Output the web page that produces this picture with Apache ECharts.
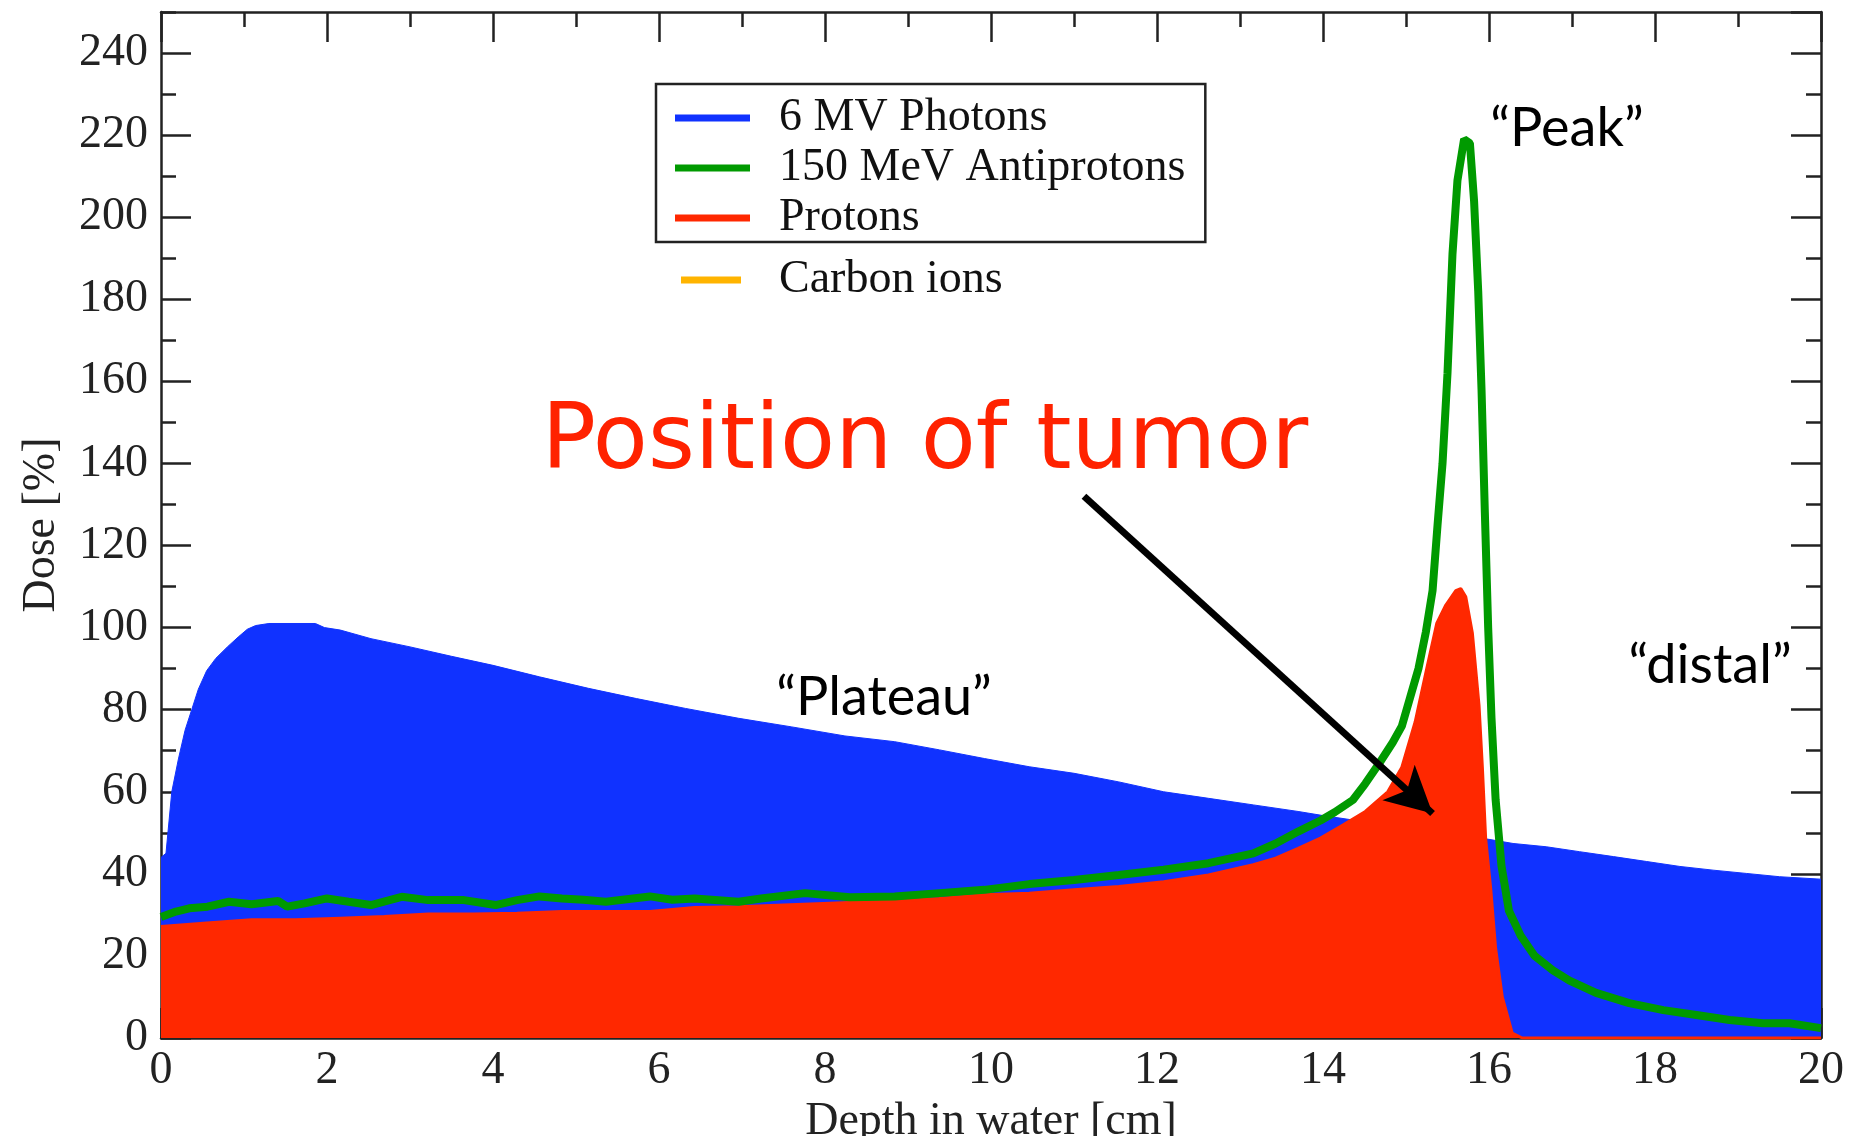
<!DOCTYPE html>
<html>
<head>
<meta charset="utf-8">
<title>Depth dose curves</title>
<script src="https://cdn.jsdelivr.net/npm/echarts@6/dist/echarts.min.js"></script>
<style>
  html, body { margin: 0; padding: 0; background: #fff; }
  #main { width: 1851px; height: 1136px; }
</style>
</head>
<body>
<div id="main"></div>
<script>
'use strict';

// depth [cm], dose [%]
var photons = [
  [0, 44], [0.06, 45], [0.13, 60], [0.21, 68], [0.29, 75], [0.37, 80], [0.45, 85], [0.55, 89.5],
  [0.66, 92.5], [0.8, 95.3], [0.93, 97.7], [1.04, 99.6], [1.14, 100.5], [1.3, 101], [1.86, 101],
  [1.97, 100], [2.16, 99.4], [2.53, 97.3], [3.0, 95.3], [3.5, 93], [4.0, 90.8], [4.56, 88],
  [5.15, 85.2], [5.73, 82.7], [6.32, 80.3], [6.96, 77.9], [7.6, 75.8], [8.24, 73.6], [8.84, 72.2],
  [9.38, 70.2], [9.92, 68.1], [10.46, 66.1], [11.0, 64.5], [11.54, 62.4], [12.08, 60], [12.62, 58.4],
  [13.16, 56.8], [13.7, 55.2], [14.0, 54.2], [14.5, 52.7], [15.0, 51.3], [15.5, 49.9], [16.0, 48.4],
  [16.29, 47.4], [16.69, 46.6], [17.09, 45.4], [17.5, 44.2], [17.9, 43], [18.3, 41.8], [18.7, 40.9],
  [19.1, 40.1], [19.5, 39.3], [20, 38.7]
];

var antiprotons = [
  [0, 29.5], [0.18, 30.8], [0.34, 31.6], [0.56, 32], [0.82, 33.2], [1.09, 32.6], [1.41, 33.4],
  [1.52, 32], [1.73, 32.8], [2.0, 34], [2.26, 33.2], [2.53, 32.4], [2.9, 34.4], [3.22, 33.6],
  [3.65, 33.6], [4.03, 32.4], [4.29, 33.6], [4.56, 34.5], [4.83, 34], [5.09, 33.7], [5.36, 33.2],
  [5.89, 34.5], [6.16, 33.7], [6.43, 34], [6.96, 33.2], [7.23, 34], [7.76, 35.3], [8.3, 34.3],
  [8.84, 34.5], [9.38, 35.3], [9.92, 36.1], [10.46, 37.5], [11.0, 38.5], [11.54, 39.7], [12.08, 41],
  [12.62, 42.6], [13.16, 45], [13.43, 47.4], [13.7, 50.3], [13.97, 53], [14.14, 55], [14.36, 58],
  [14.51, 62], [14.68, 67], [14.84, 72], [14.95, 76], [15.05, 83], [15.15, 90], [15.24, 99],
  [15.32, 109], [15.38, 125], [15.44, 140], [15.5, 162], [15.56, 191], [15.62, 209], [15.7, 219],
  [15.77, 218], [15.82, 204], [15.87, 182], [15.91, 158], [15.95, 128], [15.99, 100], [16.03, 78],
  [16.08, 58], [16.15, 42], [16.24, 31], [16.38, 25], [16.55, 20], [16.77, 16.5], [16.97, 14],
  [17.29, 11], [17.69, 8.5], [18.1, 6.8], [18.5, 5.6], [18.9, 4.4], [19.3, 3.6], [19.62, 3.6], [20, 2.4]
];

var protons = [
  [0, 27.2], [0.55, 28], [1.09, 28.8], [1.62, 28.8], [2.16, 29.2], [2.69, 29.6], [3.22, 30.2],
  [3.76, 30.2], [4.29, 30.4], [4.83, 30.8], [5.36, 30.8], [5.89, 30.8], [6.43, 31.8], [6.96, 32],
  [7.5, 32.4], [8.3, 33], [8.84, 33.4], [9.38, 34], [9.92, 34.9], [10.46, 35.3], [11.0, 36.1],
  [11.54, 36.9], [12.08, 38.1], [12.62, 39.7], [13.16, 42.2], [13.43, 43.8], [13.7, 46.2],
  [13.97, 48.7], [14.24, 51.9], [14.51, 55.2], [14.78, 60], [14.95, 66], [15.11, 77], [15.25, 90],
  [15.37, 101], [15.48, 105.5], [15.6, 109], [15.66, 109.5], [15.72, 107.5], [15.8, 98.6],
  [15.88, 81], [15.92, 66], [15.96, 48.5], [16.02, 36.5], [16.08, 21.8], [16.16, 10], [16.28, 1.2],
  [16.4, 0], [20, 0]
];

var carbonIons = []; // only in the legend

var seriesNames = ['6 MV Photons', '150 MeV Antiprotons', 'Protons', 'Carbon ions'];
var seriesColors = ['#1032ff', '#009a00', '#ff2800', '#ffb400'];

// arrow from the label to the tumor, in data units
var arrowFrom = [11.12, 132];
var arrowTo = [15.32, 54.7];

var axisColor = '#222';
var serif = 'Liberation Serif';

var tickStyle = { color: axisColor, width: 2.5 };

// frame axis with inward ticks
function frameAxis(extra) {
  var axis = {
    type: 'value',
    axisLine: { show: true, onZero: false, lineStyle: tickStyle },
    axisTick: { show: true, inside: true, length: 30, lineStyle: tickStyle },
    axisLabel: { show: false },
    splitLine: { show: false }
  };
  for (var k in extra) {
    axis[k] = extra[k];
  }
  return axis;
}

// short ticks every 10 %, no line
function minorYAxis(pos) {
  return frameAxis({
    gridIndex: 1, position: pos, min: 0, max: 250, interval: 10,
    axisLine: { show: false, onZero: false },
    axisTick: { show: true, inside: true, length: 15, lineStyle: tickStyle }
  });
}

var chart = echarts.init(document.getElementById('main'));

chart.setOption({
  animation: false,
  backgroundColor: '#fff',
  grid: [
    { left: 161, right: 30, top: 12, bottom: 98, outerBoundsMode: 'none' },
    { left: 161, right: 30, top: 12, bottom: 98, outerBoundsMode: 'none' }
  ],
  xAxis: [
    frameAxis({
      gridIndex: 0, position: 'bottom', min: 0, max: 20, interval: 2,
      minorTick: { show: true, splitNumber: 2, length: 15, lineStyle: tickStyle },
      axisLabel: { show: true, margin: 10, color: axisColor, fontFamily: serif, fontSize: 46 },
      name: 'Depth in water [cm]', nameLocation: 'middle', nameGap: 49,
      nameTextStyle: { color: axisColor, fontFamily: serif, fontSize: 46 }
    }),
    frameAxis({
      gridIndex: 0, position: 'top', min: 0, max: 20, interval: 2,
      minorTick: { show: true, splitNumber: 2, length: 15, lineStyle: tickStyle }
    }),
    frameAxis({ gridIndex: 1, min: 0, max: 20, show: false, axisLine: { show: false, onZero: false } })
  ],
  yAxis: [
    frameAxis({
      gridIndex: 0, position: 'left', min: 0, max: 250, interval: 20,
      axisLabel: { show: true, margin: 13, color: axisColor, fontFamily: serif, fontSize: 46, showMaxLabel: false },
      name: 'Dose [%]', nameLocation: 'middle', nameGap: 96, nameRotate: 90,
      nameTextStyle: { color: axisColor, fontFamily: serif, fontSize: 46 }
    }),
    frameAxis({ gridIndex: 0, position: 'right', min: 0, max: 250, interval: 20 }),
    minorYAxis('left'),
    minorYAxis('right')
  ],
  legend: [
    {
      data: seriesNames.slice(0, 3),
      orient: 'vertical',
      left: 656,
      top: 84,
      padding: [11, 20, 1, 19],
      itemGap: 4,
      itemWidth: 75,
      itemHeight: 7,
      icon: 'rect',
      selectedMode: false,
      borderColor: '#222',
      borderWidth: 2.5,
      backgroundColor: '#fff',
      textStyle: { color: '#111', fontFamily: serif, fontSize: 46, padding: [0, 0, 0, 24] }
    },
    {
      data: [seriesNames[3]],
      left: 681,
      top: 257,
      padding: 0,
      itemWidth: 60,
      itemHeight: 7,
      icon: 'rect',
      selectedMode: false,
      textStyle: { color: '#111', fontFamily: serif, fontSize: 46, padding: [0, 0, 0, 33] }
    }
  ],
  series: [
    {
      name: seriesNames[0],
      type: 'line',
      data: photons,
      showSymbol: false,
      z: 2,
      itemStyle: { color: seriesColors[0] },
      lineStyle: { color: seriesColors[0], width: 1 },
      areaStyle: { color: seriesColors[0], opacity: 1 }
    },
    {
      name: seriesNames[2],
      type: 'line',
      data: protons,
      showSymbol: false,
      z: 3,
      itemStyle: { color: seriesColors[2] },
      lineStyle: { color: seriesColors[2], width: 3 },
      areaStyle: { color: seriesColors[2], opacity: 1 }
    },
    {
      name: seriesNames[1],
      type: 'line',
      data: antiprotons,
      showSymbol: false,
      z: 4,
      itemStyle: { color: seriesColors[1] },
      lineStyle: { color: seriesColors[1], width: 8 },
      markLine: {
        silent: true,
        symbol: ['none', 'arrow'],
        symbolSize: [36, 46],
        label: { show: false },
        lineStyle: { color: '#000', width: 7, type: 'solid' },
        data: [[{ coord: arrowFrom }, { coord: arrowTo }]]
      }
    },
    {
      name: seriesNames[3],
      type: 'line',
      data: carbonIons,
      itemStyle: { color: seriesColors[3] }
    }
  ],
  graphic: [
    {
      type: 'text', x: 1567, y: 129, z: 10,
      style: { text: '\u201cPeak\u201d', font: '54px Lato', fill: '#000', align: 'center', verticalAlign: 'middle' }
    },
    {
      type: 'text', x: 884, y: 698, z: 10,
      style: { text: '\u201cPlateau\u201d', font: '54px Lato', fill: '#000', align: 'center', verticalAlign: 'middle' }
    },
    {
      type: 'text', x: 1710, y: 666, z: 10,
      style: { text: '\u201cdistal\u201d', font: '54px Lato', fill: '#000', align: 'center', verticalAlign: 'middle' }
    },
    {
      type: 'text', x: 925, y: 445, z: 10,
      style: { text: 'Position of tumor', font: '90px "DejaVu Sans"', fill: '#ff2200', align: 'center', verticalAlign: 'middle' }
    }
  ]
});
</script>
</body>
</html>
